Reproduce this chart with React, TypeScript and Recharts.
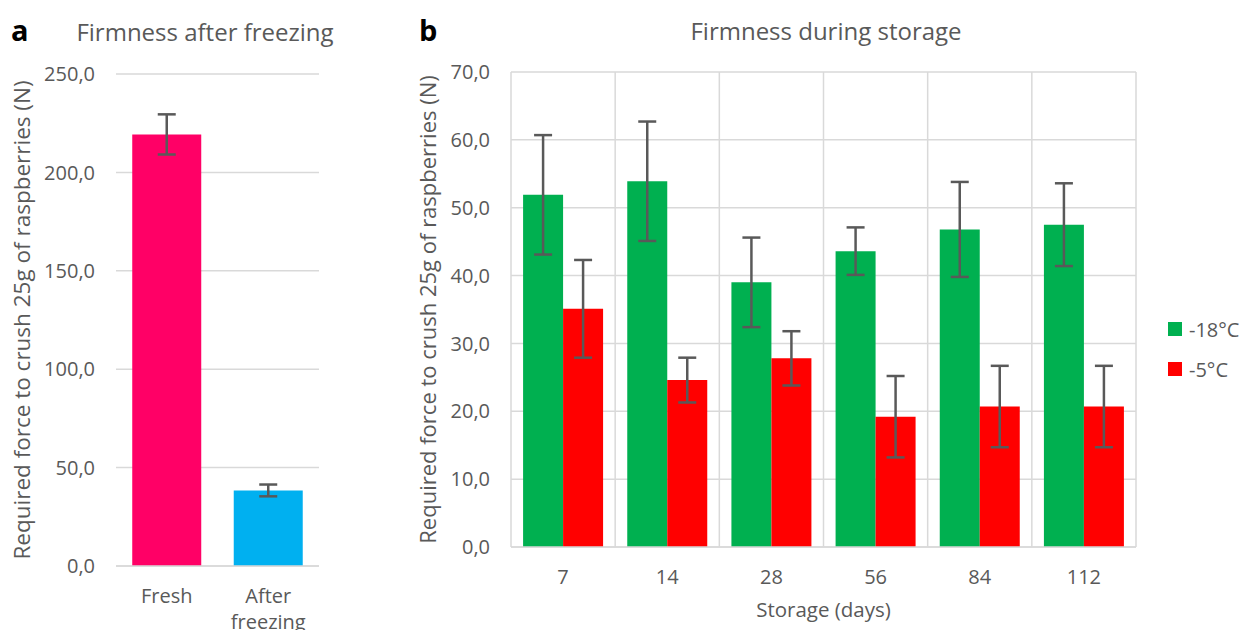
import React from 'react';
import { BarChart, Bar, XAxis, YAxis, CartesianGrid, ErrorBar, Cell, Legend, Label } from 'recharts';

// panel a
const freezeCategories = ['Fresh', 'After freezing'];
const freezeValues = [219.3, 38.4];
const freezeErrors = [10.2, 3.0];
const freezeColors = ['#FF0066', '#00B0F0'];
const freezeTicks = [0, 50, 100, 150, 200, 250];

// panel b
const storageDays = ['7', '14', '28', '56', '84', '112'];
const minus18 = [51.9, 53.9, 39.0, 43.6, 46.8, 47.5];
const minus18Err = [8.8, 8.8, 6.6, 3.5, 7.0, 6.1];
const minus5 = [35.1, 24.6, 27.8, 19.2, 20.7, 20.7];
const minus5Err = [7.2, 3.3, 4.0, 6.0, 6.0, 6.0];
const storageTicks = [0, 10, 20, 30, 40, 50, 60, 70];

const freezeData = freezeCategories.map((name, i) => ({ name, value: freezeValues[i], err: freezeErrors[i] }));
const storageData = storageDays.map((day, i) => ({
  day,
  m18: minus18[i],
  m18Err: minus18Err[i],
  m5: minus5[i],
  m5Err: minus5Err[i],
}));

const FONT = '"Open Sans", sans-serif';
const TEXT = '#595959';
const GRID = '#D9D9D9';
const AXIS_TITLE = 'Required force to crush 25g of raspberries (N)';

const fmt = (v: number) => v.toFixed(1).replace('.', ',');

const WrapTick = (props: any) => {
  const { x, y, payload } = props;
  const words = String(payload.value).split(' ');
  return (
    <text x={x} y={y} textAnchor="middle" fill={TEXT} fontSize={20} fontFamily={FONT}>
      {words.map((w: string, i: number) => (
        <tspan key={i} x={x} dy={i === 0 ? '0.71em' : 26}>
          {w}
        </tspan>
      ))}
    </text>
  );
};

const LegendBox = (props: any) => (
  <div style={{ fontFamily: FONT, fontSize: 20, color: TEXT }}>
    {props.payload.map((p: any) => (
      <div key={p.value} style={{ display: 'flex', alignItems: 'center', height: 40 }}>
        <span style={{ width: 14, height: 14, background: p.color, marginRight: 7 }} />
        {p.value}
      </div>
    ))}
  </div>
);

const titleStyle: React.CSSProperties = {
  position: 'absolute',
  fontFamily: FONT,
  fontSize: 24,
  color: TEXT,
  whiteSpace: 'nowrap',
  transform: 'translate(-50%, -50%)',
};
const letterStyle: React.CSSProperties = {
  position: 'absolute',
  fontFamily: FONT,
  fontSize: 29,
  fontWeight: 700,
  color: '#000',
  transform: 'translateY(-50%)',
};

export default function App() {
  return (
    <div style={{ position: 'absolute', left: 0, top: 0, width: 1239, height: 630, background: '#fff', overflow: 'hidden' }}>
      <div style={{ ...letterStyle, left: 11, top: 29 }}>a</div>
      <div style={{ ...titleStyle, left: 205, top: 31 }}>Firmness after freezing</div>
      <div style={{ ...letterStyle, left: 419, top: 29 }}>b</div>
      <div style={{ ...titleStyle, left: 826, top: 30 }}>Firmness during storage</div>

      <div style={{ position: 'absolute', left: 0, top: 0 }}>
        <BarChart
          width={340}
          height={630}
          data={freezeData}
          margin={{ top: 74, right: 21, bottom: 34, left: 10 }}
          barCategoryGap="16%"
        >
          <CartesianGrid vertical={false} stroke={GRID} strokeWidth={1.5} />
          <XAxis
            dataKey="name"
            height={30}
            axisLine={{ stroke: GRID, strokeWidth: 1.5 }}
            tickLine={false}
            tickSize={0}
            tickMargin={23}
            interval={0}
            tick={<WrapTick />}
          />
          <YAxis
            width={106}
            domain={[0, 250]}
            ticks={freezeTicks}
            tickFormatter={fmt}
            axisLine={false}
            tickLine={false}
            tickSize={0}
            tickMargin={21}
            tick={{ fill: TEXT, fontSize: 20, fontFamily: FONT }}
          >
            <Label
              value={AXIS_TITLE}
              angle={-90}
              position="insideLeft"
              offset={12}
              style={{ textAnchor: 'middle', fill: TEXT, fontSize: 22.5, fontFamily: FONT }}
            />
          </YAxis>
          <Bar dataKey="value" isAnimationActive={false}>
            {freezeData.map((d, i) => (
              <Cell key={d.name} fill={freezeColors[i]} />
            ))}
            <ErrorBar dataKey="err" width={9} strokeWidth={2.5} stroke={TEXT} isAnimationActive={false} />
          </Bar>
        </BarChart>
      </div>

      <div style={{ position: 'absolute', left: 400, top: 0 }}>
        <BarChart
          width={839}
          height={630}
          data={storageData}
          margin={{ top: 72, right: 103, bottom: 53, left: 10 }}
          barCategoryGap="11.6%"
          barGap={0}
        >
          <CartesianGrid
            stroke={GRID}
            strokeWidth={1.5}
            verticalCoordinatesGenerator={({ offset }: any) =>
              storageDays.map((_, i) => offset.left + (i * offset.width) / storageDays.length).concat(offset.left + offset.width)
            }
          />
          <XAxis
            dataKey="day"
            height={30}
            axisLine={{ stroke: GRID, strokeWidth: 1.5 }}
            tickLine={false}
            tickSize={0}
            tickMargin={23}
            tick={{ fill: TEXT, fontSize: 20, fontFamily: FONT }}
          >
            <Label
              value="Storage (days)"
              position="insideBottom"
              offset={-40}
              style={{ fill: TEXT, fontSize: 20.5, fontFamily: FONT }}
            />
          </XAxis>
          <YAxis
            width={101}
            domain={[0, 70]}
            ticks={storageTicks}
            tickFormatter={fmt}
            axisLine={false}
            tickLine={false}
            tickSize={0}
            tickMargin={21}
            tick={{ fill: TEXT, fontSize: 20, fontFamily: FONT }}
          >
            <Label
              value={AXIS_TITLE}
              angle={-90}
              position="insideLeft"
              offset={18}
              style={{ textAnchor: 'middle', fill: TEXT, fontSize: 22, fontFamily: FONT }}
            />
          </YAxis>
          <Legend
            layout="horizontal"
            verticalAlign="middle"
            content={<LegendBox />}
            wrapperStyle={{ position: 'absolute', left: 768, top: 309, width: 80 }}
          />
          <Bar dataKey="m18" name="-18°C" fill="#00B050" isAnimationActive={false}>
            <ErrorBar dataKey="m18Err" width={9} strokeWidth={2.5} stroke={TEXT} isAnimationActive={false} />
          </Bar>
          <Bar dataKey="m5" name="-5°C" fill="#FF0000" isAnimationActive={false}>
            <ErrorBar dataKey="m5Err" width={9} strokeWidth={2.5} stroke={TEXT} isAnimationActive={false} />
          </Bar>
        </BarChart>
      </div>
    </div>
  );
}
